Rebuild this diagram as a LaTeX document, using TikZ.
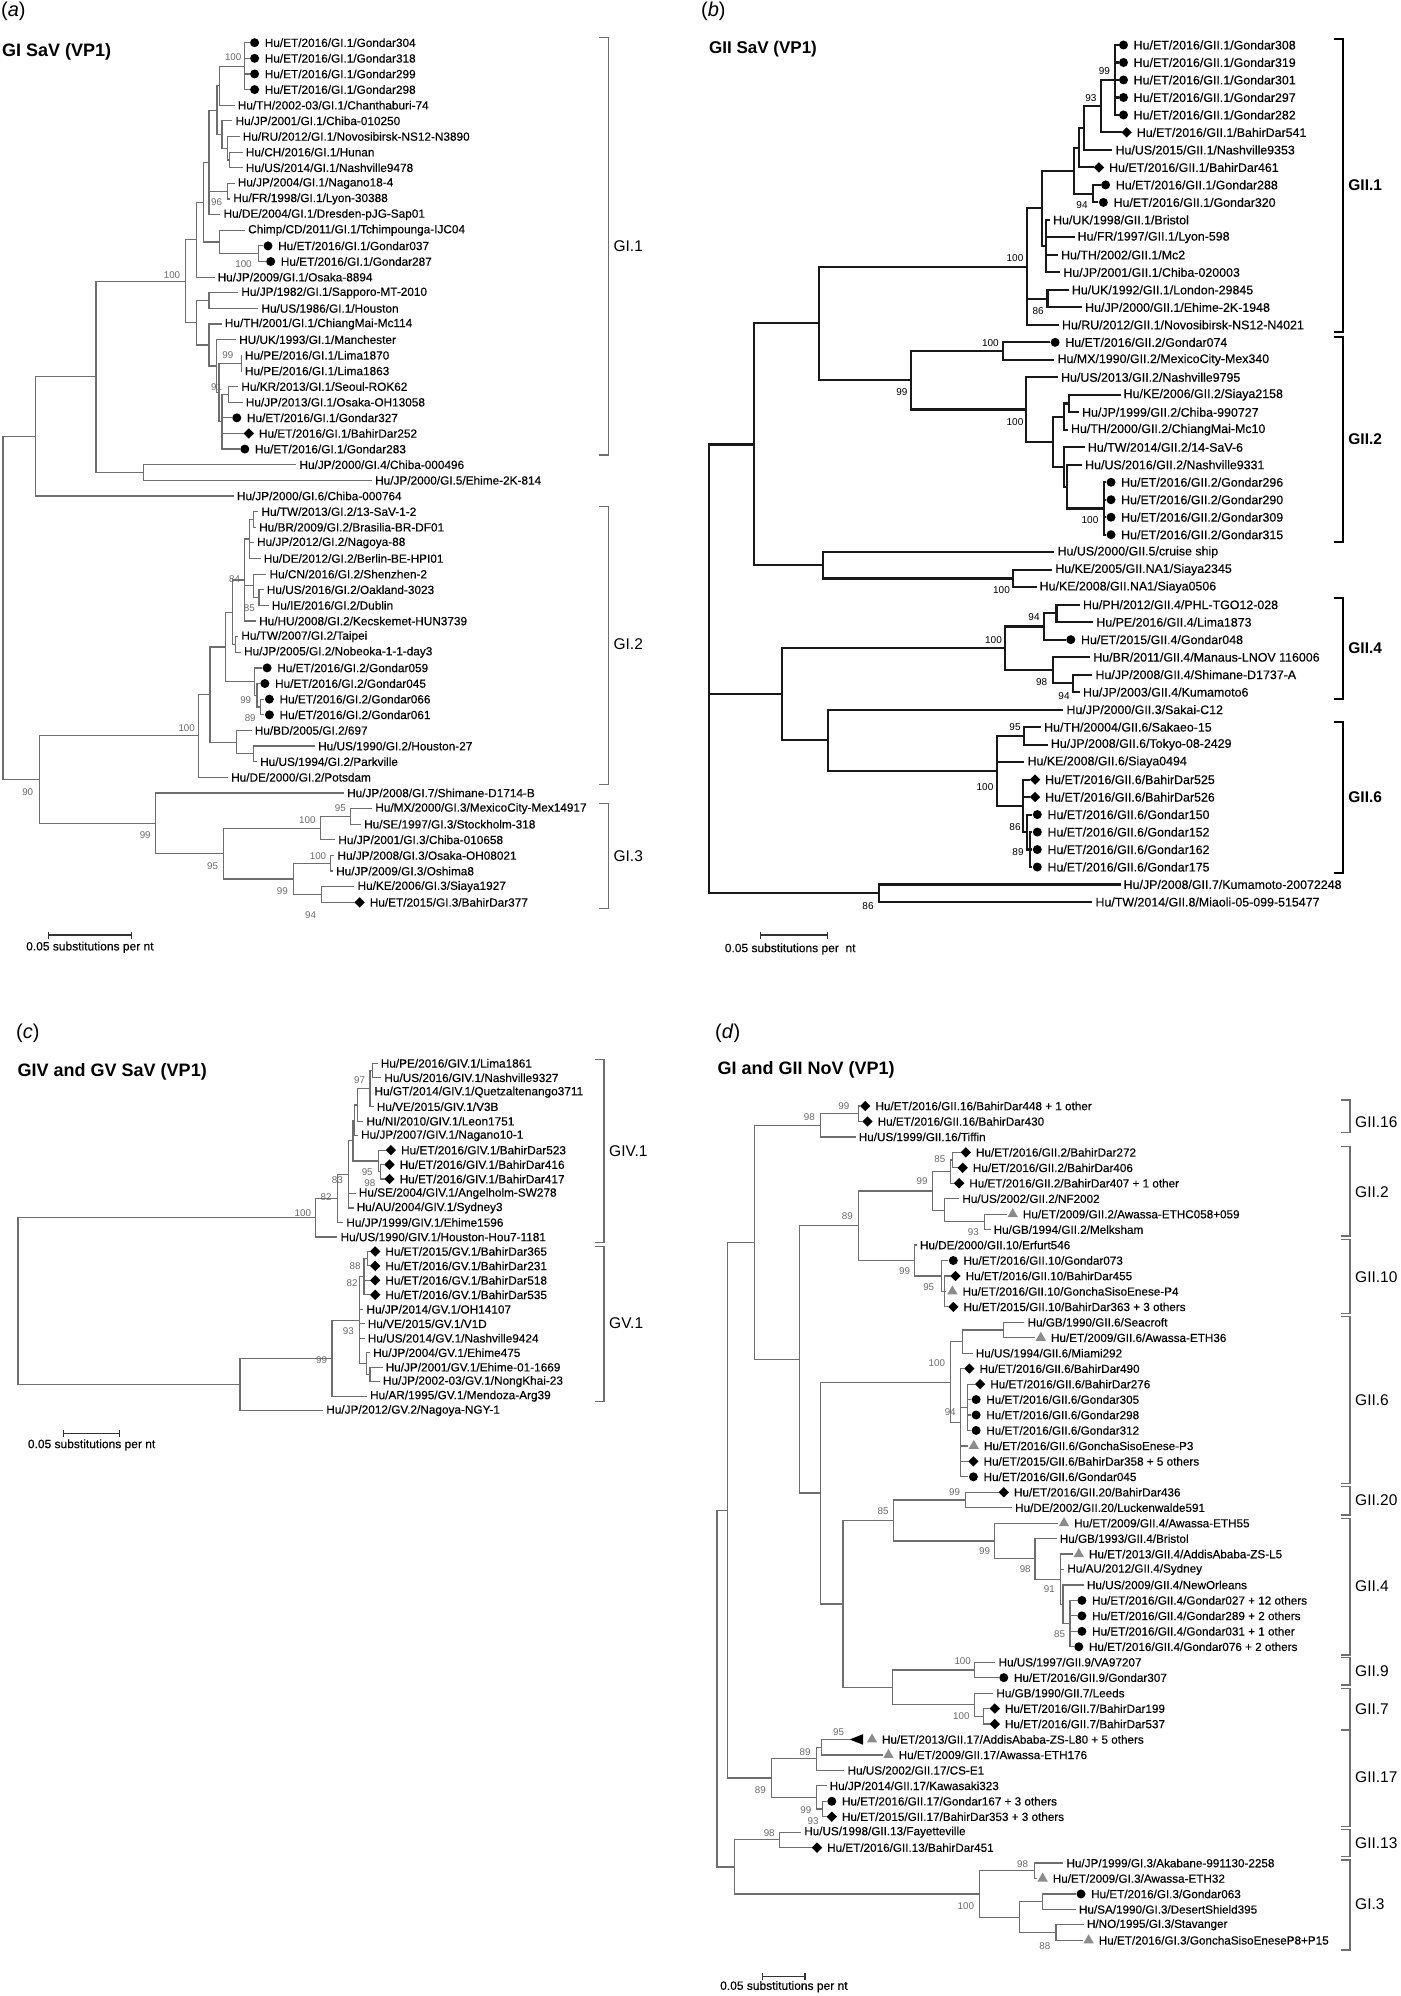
\documentclass[tikz,border=0pt]{standalone}
\usepackage{fontspec}
\setmainfont{Liberation Sans}
\newfontfamily\lblfnt{Liberation Sans}[FakeBold=0.3]
\usetikzlibrary{shapes.geometric}
\definecolor{brgray}{HTML}{6E6E6E}
\definecolor{btgray}{HTML}{6A6A6A}
\definecolor{trigray}{HTML}{8C8C8C}
\newcount\btc
\newcommand\leafP[4]{\coordinate (#1) at (#2-3,#3);\node[lab,anchor=west] (#1t) at (#2,#3) {#4};}
\newcommand\leafC[4]{\coordinate (#1) at (#2-5,#3);\node[mkc] (#1m) at (#2,#3) {};\node[lab,anchor=west] (#1t) at (#2+10,#3) {#4};}
\newcommand\leafD[4]{\coordinate (#1) at (#2-5,#3);\node[mkd] (#1m) at (#2,#3) {};\node[lab,anchor=west] (#1t) at (#2+10,#3) {#4};}
\newcommand\leafT[4]{\coordinate (#1) at (#2-6,#3);\node[mkt] (#1m) at (#2,#3) {};\node[lab,anchor=west] (#1t) at (#2+10,#3) {#4};}
\newcommand\inode[3]{\coordinate (#1) at (#2,#3);}
\newcommand\edges[2]{\foreach \ch in {#2}{\draw[br] (#1) |- (\ch);}}
\newcommand\boot[3]{\global\advance\btc by 1\relax\node[bt] (bt\the\btc) at (#1,#2) {#3};}
\newcommand\clade[6]{\coordinate (#1top) at (#2,#3);\coordinate (#1bot) at (#2,#4);
 \draw[brk] ([xshift=-9pt]#1top) -- (#1top) -- (#1bot) -- ([xshift=-9pt]#1bot);
 \node[cl,anchor=west] (#1lab) at (#2+5,#5) {#6};}
\newcommand\fsz[1]{\fontsize{#1}{#1}\selectfont}
\begin{document}
\begin{tikzpicture}[x=1pt,y=-1pt,
 mkc/.style={circle,fill=black,inner sep=0pt,minimum size=9pt},
 mkd/.style={diamond,aspect=1,fill=black,inner sep=0pt,minimum size=10.5pt},
 mkt/.style={regular polygon,regular polygon sides=3,fill=trigray,inner sep=0pt,minimum size=12pt},
 cl/.style={inner sep=0pt,font=\fsz{15.5pt}},
 ttl/.style={inner sep=0pt,anchor=west,font=\bfseries\fsz{18pt}},
 pl/.style={inner sep=0pt,anchor=west,font=\fsz{20pt}},
 sc/.style={inner sep=0pt,anchor=west,font=\lblfnt\fsz{12pt}},
 brk/.style={draw=brgray,line width=1.4pt},
 sbar/.style={draw=black!80,line width=1.1pt}]
\fill[white] (0,0) rectangle (1400,1996);
\useasboundingbox (0,0) rectangle (1400,1996);

% ================= (a) =================
\node[pl] (pa) at (1,11) {(\textit{a})};
\node[ttl] (ta) at (2,51.7) {GI SaV (VP1)};
\begin{scope}[y=-15.63pt,shift={(0pt,-42.7pt)},
 br/.style={draw=brgray,line width=1.2pt},
 lab/.style={inner sep=0pt,font=\lblfnt\fsz{11.8pt}},
 bt/.style={inner sep=0pt,text=btgray,font=\fsz{9.8pt}}]
\leafC{aL0}{254.6}{0}{Hu/ET/2016/GI.1/Gondar304}
\leafC{aL1}{254.6}{1}{Hu/ET/2016/GI.1/Gondar318}
\leafC{aL2}{254.6}{2}{Hu/ET/2016/GI.1/Gondar299}
\leafC{aL3}{254.6}{3}{Hu/ET/2016/GI.1/Gondar298}
\leafP{aL4}{237.6}{4}{Hu/TH/2002-03/GI.1/Chanthaburi-74}
\leafP{aL5}{235.4}{5}{Hu/JP/2001/GI.1/Chiba-010250}
\leafP{aL6}{242.6}{6}{Hu/RU/2012/GI.1/Novosibirsk-NS12-N3890}
\leafP{aL7}{245.7}{7}{Hu/CH/2016/GI.1/Hunan}
\leafP{aL8}{245.7}{8}{Hu/US/2014/GI.1/Nashville9478}
\leafP{aL9}{237.6}{9}{Hu/JP/2004/GI.1/Nagano18-4}
\leafP{aL10}{233.2}{10}{Hu/FR/1998/GI.1/Lyon-30388}
\leafP{aL11}{223.4}{11}{Hu/DE/2004/GI.1/Dresden-pJG-Sap01}
\leafP{aL12}{248}{12}{Chimp/CD/2011/GI.1/Tchimpounga-IJC04}
\leafC{aL13}{268}{13}{Hu/ET/2016/GI.1/Gondar037}
\leafC{aL14}{270.7}{14}{Hu/ET/2016/GI.1/Gondar287}
\leafP{aL15}{217.5}{15}{Hu/JP/2009/GI.1/Osaka-8894}
\leafP{aL16}{241.2}{16}{Hu/JP/1982/GI.1/Sapporo-MT-2010}
\leafP{aL17}{261.3}{17}{Hu/US/1986/GI.1/Houston}
\leafP{aL18}{224.7}{18}{Hu/TH/2001/GI.1/ChiangMai-Mc114}
\leafP{aL19}{239}{19}{HU/UK/1993/GI.1/Manchester}
\leafP{aL20}{244.8}{20}{Hu/PE/2016/GI.1/Lima1870}
\leafP{aL21}{244.8}{21}{Hu/PE/2016/GI.1/Lima1863}
\leafP{aL22}{241.2}{22}{Hu/KR/2013/GI.1/Seoul-ROK62}
\leafP{aL23}{245.7}{23}{Hu/JP/2013/GI.1/Osaka-OH13058}
\leafC{aL24}{236.8}{24}{Hu/ET/2016/GI.1/Gondar327}
\leafD{aL25}{248.8}{25}{Hu/ET/2016/GI.1/BahirDar252}
\leafC{aL26}{244.8}{26}{Hu/ET/2016/GI.1/Gondar283}
\leafP{aL27}{299.3}{27}{Hu/JP/2000/GI.4/Chiba-000496}
\leafP{aL28}{375}{28}{Hu/JP/2000/GI.5/Ehime-2K-814}
\leafP{aL29}{236.8}{29}{Hu/JP/2000/GI.6/Chiba-000764}
\leafP{aL30}{261.3}{30}{Hu/TW/2013/GI.2/13-SaV-1-2}
\leafP{aL31}{259}{31}{Hu/BR/2009/GI.2/Brasilia-BR-DF01}
\leafP{aL32}{256.9}{32}{Hu/JP/2012/GI.2/Nagoya-88}
\leafP{aL33}{263.6}{33}{Hu/DE/2012/GI.2/Berlin-BE-HPI01}
\leafP{aL34}{269.4}{34}{Hu/CN/2016/GI.2/Shenzhen-2}
\leafP{aL35}{266.7}{35}{Hu/US/2016/GI.2/Oakland-3023}
\leafP{aL36}{271.6}{36}{Hu/IE/2016/GI.2/Dublin}
\leafP{aL37}{259}{37}{Hu/HU/2008/GI.2/Kecskemet-HUN3739}
\leafP{aL38}{241.2}{38}{Hu/TW/2007/GI.2/Taipei}
\leafP{aL39}{243.9}{39}{Hu/JP/2005/GI.2/Nobeoka-1-1-day3}
\leafC{aL40}{267.1}{40}{Hu/ET/2016/GI.2/Gondar059}
\leafC{aL41}{264.9}{41}{Hu/ET/2016/GI.2/Gondar045}
\leafC{aL42}{269.4}{42}{Hu/ET/2016/GI.2/Gondar066}
\leafC{aL43}{269.4}{43}{Hu/ET/2016/GI.2/Gondar061}
\leafP{aL44}{254.6}{44}{Hu/BD/2005/GI.2/697}
\leafP{aL45}{318}{45}{Hu/US/1990/GI.2/Houston-27}
\leafP{aL46}{260}{46}{Hu/US/1994/GI.2/Parkville}
\leafP{aL47}{231}{47}{Hu/DE/2000/GI.2/Potsdam}
\leafP{aL48}{347}{48}{Hu/JP/2008/GI.7/Shimane-D1714-B}
\leafP{aL49}{375.2}{49}{Hu/MX/2000/GI.3/MexicoCity-Mex14917}
\leafP{aL50}{364}{50}{Hu/SE/1997/GI.3/Stockholm-318}
\leafP{aL51}{338.2}{51}{Hu/JP/2001/GI.3/Chiba-010658}
\leafP{aL52}{337.3}{52}{Hu/JP/2008/GI.3/Osaka-OH08021}
\leafP{aL53}{336}{53}{Hu/JP/2009/GI.3/Oshima8}
\leafP{aL54}{357.4}{54}{Hu/KE/2006/GI.3/Siaya1927}
\leafD{aL55}{359.6}{55}{Hu/ET/2015/GI.3/BahirDar377}
\inode{aN1}{244.8}{1.5}
\inode{aN2}{219.8}{2.75}
\inode{aN6}{229.6}{7.5}
\inode{aN5}{227.8}{6.75}
\inode{aN4}{222}{5.875}
\inode{aJ}{217}{4.3125}
\inode{aK}{227.8}{9.5}
\inode{aI}{209}{7.656}
\inode{aM}{258.2}{13.5}
\inode{aL}{219.8}{12.75}
\inode{aH}{203.2}{10.2}
\inode{aF}{196.5}{12.6}
\inode{aO}{209}{16.5}
\inode{aQ}{241.2}{20.5}
\inode{aR2}{228.7}{22.5}
\inode{aU}{222}{24.25}
\inode{aT}{218.9}{22.375}
\inode{aS}{216.6}{20.69}
\inode{aP}{209}{19.34}
\inode{aG}{196.5}{17.92}
\inode{aG1}{185.4}{15.26}
\inode{aE}{143.8}{27.5}
\inode{aD}{96}{21.38}
\inode{aA}{35.7}{25.19}
\inode{aV1}{253.7}{30.5}
\inode{aV0}{249.3}{31.75}
\inode{aV3}{259}{35.5}
\inode{aV2}{253.3}{34.75}
\inode{aV84}{244.8}{34.375}
\inode{aV4}{235.4}{38.5}
\inode{aW}{232.3}{36.44}
\inode{aX1}{260.4}{42.5}
\inode{aX2}{256.9}{41.75}
\inode{aX3}{254.6}{40.875}
\inode{aY}{225.6}{38.66}
\inode{aZ1}{253.7}{45.5}
\inode{aZ}{236.8}{44.75}
\inode{aGa}{210}{41.7}
\inode{aGII}{198.8}{44.35}
\inode{aC5b}{350.7}{49.5}
\inode{aC1a}{320.7}{50.25}
\inode{aC1b}{330.6}{52.5}
\inode{aC4}{321.6}{54.5}
\inode{aC9}{293.5}{53.5}
\inode{aC5}{223.4}{51.875}
\inode{aC}{155.5}{49.94}
\inode{aB}{39.3}{47.14}
\inode{aR}{3}{36.2}
\edges{aN1}{aL0,aL1,aL2,aL3}
\edges{aN2}{aN1,aL4}
\edges{aN6}{aL7,aL8}
\edges{aN5}{aL6,aN6}
\edges{aN4}{aL5,aN5}
\edges{aJ}{aN2,aN4}
\edges{aK}{aL9,aL10}
\edges{aI}{aJ,aK,aL11}
\edges{aM}{aL13,aL14}
\edges{aL}{aL12,aM}
\edges{aH}{aI,aL}
\edges{aF}{aH,aL15}
\edges{aO}{aL16,aL17}
\edges{aQ}{aL20,aL21}
\edges{aR2}{aL22,aL23}
\edges{aU}{aR2,aL24,aL25,aL26}
\edges{aT}{aQ,aU}
\edges{aS}{aL19,aT}
\edges{aP}{aL18,aS}
\edges{aG}{aO,aP}
\edges{aG1}{aF,aG}
\edges{aE}{aL27,aL28}
\edges{aD}{aG1,aE}
\edges{aA}{aD,aL29}
\edges{aV1}{aL30,aL31}
\edges{aV0}{aV1,aL32,aL33}
\edges{aV3}{aL35,aL36}
\edges{aV2}{aL34,aV3}
\edges{aV84}{aV0,aV2,aL37}
\edges{aV4}{aL38,aL39}
\edges{aW}{aV84,aV4}
\edges{aX1}{aL42,aL43}
\edges{aX2}{aL41,aX1}
\edges{aX3}{aL40,aX2}
\edges{aY}{aW,aX3}
\edges{aZ1}{aL45,aL46}
\edges{aZ}{aL44,aZ1}
\edges{aGa}{aY,aZ}
\edges{aGII}{aGa,aL47}
\edges{aC5b}{aL49,aL50}
\edges{aC1a}{aC5b,aL51}
\edges{aC1b}{aL52,aL53}
\edges{aC4}{aL54,aL55}
\edges{aC9}{aC1b,aC4}
\edges{aC5}{aC1a,aC9}
\edges{aC}{aL48,aC5}
\edges{aB}{aGII,aC}
\edges{aR}{aA,aB}
\boot{233.2}{0.93}{100}
\boot{216.6}{10.17}{96}
\boot{243.5}{14.18}{100}
\boot{172}{14.86}{100}
\boot{227.8}{19.98}{99}
\boot{216.6}{22.01}{91}
\boot{234.5}{34.31}{84}
\boot{249.3}{36.19}{85}
\boot{245.7}{42.05}{99}
\boot{250.2}{43.22}{89}
\boot{186.7}{43.86}{100}
\boot{27.7}{47.92}{90}
\boot{340.4}{48.98}{95}
\boot{307.3}{49.73}{100}
\boot{145.2}{50.69}{99}
\boot{318}{52.04}{100}
\boot{212.6}{52.67}{95}
\boot{282.3}{54.25}{99}
\boot{310.5}{55.8}{94}
\end{scope}
\clade{ka1}{608.4}{37.3}{455}{246}{GI.1}
\clade{ka2}{608.4}{506.7}{784.3}{644}{GI.2}
\clade{ka3}{608.4}{803.3}{908.3}{856}{GI.3}
\coordinate (sa1) at (48.3,935); \coordinate (sa2) at (131.7,935);
\draw[sbar] (sa1) -- (sa2);
\draw[sbar] ([yshift=3.5pt]sa1) -- ([yshift=-3.5pt]sa1);
\draw[sbar] ([yshift=3.5pt]sa2) -- ([yshift=-3.5pt]sa2);
\node[sc] (sta) at (26,947.3) {0.05 substitutions per nt};

% ================= (b) =================
\node[pl] (pb) at (701,11) {(\textit{b})};
\node[ttl,font=\bfseries\fsz{17pt}] (tb) at (709,49.3) {GII SaV (VP1)};
\begin{scope}[y=-17.49pt,shift={(0pt,-45pt)},
 br/.style={draw=black!90,line width=2.1pt},
 lab/.style={inner sep=0pt,font=\lblfnt\fsz{12.4pt}},
 bt/.style={inner sep=0pt,text=black,font=\fsz{10pt}}]
\leafC{bL0}{1123.5}{0}{Hu/ET/2016/GII.1/Gondar308}
\leafC{bL1}{1123.5}{1}{Hu/ET/2016/GII.1/Gondar319}
\leafC{bL2}{1123.5}{2}{Hu/ET/2016/GII.1/Gondar301}
\leafC{bL3}{1123.5}{3}{Hu/ET/2016/GII.1/Gondar297}
\leafC{bL4}{1123.5}{4}{Hu/ET/2016/GII.1/Gondar282}
\leafD{bL5}{1126.6}{5}{Hu/ET/2016/GII.1/BahirDar541}
\leafP{bL6}{1115.4}{6}{Hu/US/2015/GII.1/Nashville9353}
\leafD{bL7}{1098.9}{7}{Hu/ET/2016/GII.1/BahirDar461}
\leafC{bL8}{1105.6}{8}{Hu/ET/2016/GII.1/Gondar288}
\leafC{bL9}{1103.4}{9}{Hu/ET/2016/GII.1/Gondar320}
\leafP{bL10}{1052.9}{10}{Hu/UK/1998/GII.1/Bristol}
\leafP{bL11}{1077.5}{11}{Hu/FR/1997/GII.1/Lyon-598}
\leafP{bL12}{1060.9}{12}{Hu/TH/2002/GII.1/Mc2}
\leafP{bL13}{1063.2}{13}{Hu/JP/2001/GII.1/Chiba-020003}
\leafP{bL14}{1071.7}{14}{Hu/UK/1992/GII.1/London-29845}
\leafP{bL15}{1085}{15}{Hu/JP/2000/GII.1/Ehime-2K-1948}
\leafP{bL16}{1061.8}{16}{Hu/RU/2012/GII.1/Novosibirsk-NS12-N4021}
\leafC{bL17}{1055.1}{17}{Hu/ET/2016/GII.2/Gondar074}
\leafP{bL18}{1057.4}{18}{Hu/MX/1990/GII.2/MexicoCity-Mex340}
\leafP{bL19}{1060.9}{19}{Hu/US/2013/GII.2/Nashville9795}
\leafP{bL20}{1123.5}{20}{Hu/KE/2006/GII.2/Siaya2158}
\leafP{bL21}{1081.9}{21}{Hu/JP/1999/GII.2/Chiba-990727}
\leafP{bL22}{1070.8}{22}{Hu/TH/2000/GII.2/ChiangMai-Mc10}
\leafP{bL23}{1087.7}{23}{Hu/TW/2014/GII.2/14-SaV-6}
\leafP{bL24}{1085}{24}{Hu/US/2016/GII.2/Nashville9331}
\leafC{bL25}{1111}{25}{Hu/ET/2016/GII.2/Gondar296}
\leafC{bL26}{1111}{26}{Hu/ET/2016/GII.2/Gondar290}
\leafC{bL27}{1111}{27}{Hu/ET/2016/GII.2/Gondar309}
\leafC{bL28}{1111}{28}{Hu/ET/2016/GII.2/Gondar315}
\leafP{bL29}{1057.4}{29}{Hu/US/2000/GII.5/cruise ship}
\leafP{bL30}{1055.1}{30}{Hu/KE/2005/GII.NA1/Siaya2345}
\leafP{bL31}{1039.5}{31}{Hu/KE/2008/GII.NA1/Siaya0506}
\leafP{bL32}{1082.8}{32}{Hu/PH/2012/GII.4/PHL-TGO12-028}
\leafP{bL33}{1096.2}{33}{Hu/PE/2016/GII.4/Lima1873}
\leafC{bL34}{1070.8}{34}{Hu/ET/2015/GII.4/Gondar048}
\leafP{bL35}{1093.1}{35}{Hu/BR/2011/GII.4/Manaus-LNOV 116006}
\leafP{bL36}{1095.3}{36}{Hu/JP/2008/GII.4/Shimane-D1737-A}
\leafP{bL37}{1082.8}{37}{Hu/JP/2003/GII.4/Kumamoto6}
\leafP{bL38}{1066.3}{38}{Hu/JP/2000/GII.3/Sakai-C12}
\leafP{bL39}{1044}{39}{Hu/TH/20004/GII.6/Sakaeo-15}
\leafP{bL40}{1050.7}{40}{Hu/JP/2008/GII.6/Tokyo-08-2429}
\leafP{bL41}{1027.4}{41}{Hu/KE/2008/GII.6/Siaya0494}
\leafD{bL42}{1035}{42}{Hu/ET/2016/GII.6/BahirDar525}
\leafD{bL43}{1035}{43}{Hu/ET/2016/GII.6/BahirDar526}
\leafC{bL44}{1037.3}{44}{Hu/ET/2016/GII.6/Gondar150}
\leafC{bL45}{1037.3}{45}{Hu/ET/2016/GII.6/Gondar152}
\leafC{bL46}{1037.3}{46}{Hu/ET/2016/GII.6/Gondar162}
\leafC{bL47}{1037.3}{47}{Hu/ET/2016/GII.6/Gondar175}
\leafP{bL48}{1123.5}{48}{Hu/JP/2008/GII.7/Kumamoto-20072248}
\leafP{bL49}{1095.3}{49}{Hu/TW/2014/GII.8/Miaoli-05-099-515477}
\inode{bP1}{1115.4}{2}
\inode{bP2}{1101.1}{3.5}
\inode{bP3}{1084.2}{4.75}
\inode{bP4}{1078.8}{5.875}
\inode{bP5}{1093.1}{8.5}
\inode{bP6}{1074.3}{7.19}
\inode{bP7}{1046.2}{11.5}
\inode{bP8}{1041.7}{9.34}
\inode{bP9}{1047.5}{14.5}
\inode{bG1}{1027.4}{12.67}
\inode{bQ1}{1002.9}{17.5}
\inode{bQ2}{1069}{20.5}
\inode{bQ3}{1064}{21.25}
\inode{bQ4}{1104.3}{26.5}
\inode{bQ5}{1067.2}{25.25}
\inode{bQ6}{1064}{24.125}
\inode{bQ7}{1052.9}{22.69}
\inode{bQ8}{1026.1}{20.84}
\inode{bQ9}{910.8}{19.17}
\inode{bS1}{819.3}{15.92}
\inode{bS3}{1012.7}{30.5}
\inode{bS2}{822.8}{29.75}
\inode{bS4}{753.6}{22.84}
\inode{bT1}{1056.5}{32.5}
\inode{bT2}{1044}{33.25}
\inode{bT3}{1073.4}{36.5}
\inode{bT4}{1052.9}{35.75}
\inode{bT5}{1005}{34.5}
\inode{bU1}{1023.9}{39.5}
\inode{bU3}{1029.7}{46}
\inode{bU4}{1027.4}{45}
\inode{bU5}{1023.4}{43.5}
\inode{bU6}{997}{41.5}
\inode{bU7}{828.2}{39.75}
\inode{bU8}{781.7}{37.125}
\inode{bV1}{878.7}{48.5}
\inode{bR}{708.9}{35.67}
\edges{bP1}{bL0,bL1,bL2,bL3,bL4}
\edges{bP2}{bP1,bL5}
\edges{bP3}{bP2,bL6}
\edges{bP4}{bP3,bL7}
\edges{bP5}{bL8,bL9}
\edges{bP6}{bP4,bP5}
\edges{bP7}{bL10,bL11,bL12,bL13}
\edges{bP8}{bP6,bP7}
\edges{bP9}{bL14,bL15}
\edges{bG1}{bP8,bP9,bL16}
\edges{bQ1}{bL17,bL18}
\edges{bQ2}{bL20,bL21}
\edges{bQ3}{bQ2,bL22}
\edges{bQ4}{bL25,bL26,bL27,bL28}
\edges{bQ5}{bL24,bQ4}
\edges{bQ6}{bL23,bQ5}
\edges{bQ7}{bQ3,bQ6}
\edges{bQ8}{bL19,bQ7}
\edges{bQ9}{bQ1,bQ8}
\edges{bS1}{bG1,bQ9}
\edges{bS3}{bL30,bL31}
\edges{bS2}{bL29,bS3}
\edges{bS4}{bS1,bS2}
\edges{bT1}{bL32,bL33}
\edges{bT2}{bT1,bL34}
\edges{bT3}{bL36,bL37}
\edges{bT4}{bL35,bT3}
\edges{bT5}{bT2,bT4}
\edges{bU1}{bL39,bL40}
\edges{bU3}{bL45,bL46,bL47}
\edges{bU4}{bL44,bU3}
\edges{bU5}{bL42,bL43,bU4}
\edges{bU6}{bU1,bL41,bU5}
\edges{bU7}{bL38,bU6}
\edges{bU8}{bT5,bU7}
\edges{bV1}{bL48,bL49}
\edges{bR}{bS4,bU8,bV1}
\boot{1104.3}{1.49}{99}
\boot{1090.9}{3.01}{93}
\boot{1082}{9.15}{94}
\boot{1038.2}{15.19}{86}
\boot{1015}{12.2}{100}
\boot{990.4}{17.02}{100}
\boot{1015}{21.54}{100}
\boot{901.9}{19.82}{99}
\boot{1090}{27.16}{100}
\boot{1001.5}{31.16}{100}
\boot{1034}{32.72}{94}
\boot{993.5}{34.02}{100}
\boot{1041.7}{36.40}{98}
\boot{1064}{37.22}{94}
\boot{1015}{39.01}{95}
\boot{985}{42.44}{100}
\boot{1015}{44.69}{86}
\boot{1018}{46.14}{89}
\boot{868}{49.23}{86}
\end{scope}
\begin{scope}[brk/.style={draw=black,line width=2.2pt},cl/.style={inner sep=0pt,font=\bfseries\fsz{15.5pt}}]
\clade{kb1}{1343.2}{39.3}{331.7}{185}{GII.1}
\clade{kb2}{1343.2}{336.7}{541.7}{439.3}{GII.2}
\clade{kb4}{1343.2}{598.3}{699.3}{648.3}{GII.4}
\clade{kb6}{1343.2}{721.7}{873.3}{796.7}{GII.6}
\end{scope}
\coordinate (sb1) at (760.3,935); \coordinate (sb2) at (827.3,935);
\draw[sbar,line width=1.6pt] (sb1) -- (sb2);
\draw[sbar,line width=1.6pt] ([yshift=3.5pt]sb1) -- ([yshift=-3.5pt]sb1);
\draw[sbar,line width=1.6pt] ([yshift=3.5pt]sb2) -- ([yshift=-3.5pt]sb2);
\node[sc] (stb) at (724.6,949) {0.05 substitutions per\ \ nt};

% ================= (c) =================
\node[pl] (pc) at (16,1033) {(\textit{c})};
\node[ttl] (tc) at (17.5,1071.7) {GIV and GV SaV (VP1)};
\begin{scope}[y=-14.47pt,shift={(0pt,-1063.3pt)},
 br/.style={draw=brgray,line width=1.2pt},
 lab/.style={inner sep=0pt,font=\lblfnt\fsz{11.8pt}},
 bt/.style={inner sep=0pt,text=btgray,font=\fsz{9.8pt}}]
\leafP{cL0}{380.6}{0}{Hu/PE/2016/GIV.1/Lima1861}
\leafP{cL1}{384.2}{1}{Hu/US/2016/GIV.1/Nashville9327}
\leafP{cL2}{374.3}{2}{Hu/GT/2014/GIV.1/Quetzaltenango3711}
\leafP{cL3}{376.6}{3}{Hu/VE/2015/GIV.1/V3B}
\leafP{cL4}{366.3}{4}{Hu/NI/2010/GIV.1/Leon1751}
\leafP{cL5}{360.9}{5}{Hu/JP/2007/GIV.1/Nagano10-1}
\leafD{cL6}{390.9}{6}{Hu/ET/2016/GIV.1/BahirDar523}
\leafD{cL7}{389.5}{7}{Hu/ET/2016/GIV.1/BahirDar416}
\leafD{cL8}{389.5}{8}{Hu/ET/2016/GIV.1/BahirDar417}
\leafP{cL9}{358.7}{9}{Hu/SE/2004/GIV.1/Angelholm-SW278}
\leafP{cL10}{356.5}{10}{Hu/AU/2004/GIV.1/Sydney3}
\leafP{cL11}{346.2}{11}{Hu/JP/1999/GIV.1/Ehime1596}
\leafP{cL12}{340.4}{12}{Hu/US/1990/GIV.1/Houston-Hou7-1181}
\leafD{cL13}{375.2}{13}{Hu/ET/2015/GV.1/BahirDar365}
\leafD{cL14}{375.2}{14}{Hu/ET/2016/GV.1/BahirDar231}
\leafD{cL15}{375.2}{15}{Hu/ET/2016/GV.1/BahirDar518}
\leafD{cL16}{375.2}{16}{Hu/ET/2016/GV.1/BahirDar535}
\leafP{cL17}{366.3}{17}{Hu/JP/2014/GV.1/OH14107}
\leafP{cL18}{367.6}{18}{Hu/VE/2015/GV.1/V1D}
\leafP{cL19}{367.6}{19}{Hu/US/2014/GV.1/Nashville9424}
\leafP{cL20}{373}{20}{Hu/JP/2004/GV.1/Ehime475}
\leafP{cL21}{385.5}{21}{Hu/JP/2001/GV.1/Ehime-01-1669}
\leafP{cL22}{382.8}{22}{Hu/JP/2002-03/GV.1/NongKhai-23}
\leafP{cL23}{369.9}{23}{Hu/AR/1995/GV.1/Mendoza-Arg39}
\leafP{cL24}{326.1}{24}{Hu/JP/2012/GV.2/Nagoya-NGY-1}
\inode{cC1}{372.1}{0.5}
\inode{cC2}{369.9}{1.75}
\inode{cC3}{357.4}{2.875}
\inode{cC4}{354.2}{3.94}
\inode{cC5a}{380.6}{7.5}
\inode{cC5}{378.8}{6.75}
\inode{cC6}{352.9}{5.35}
\inode{cC7}{348.4}{7.675}
\inode{cC8}{337.3}{9.34}
\inode{cG4}{315.8}{10.67}
\inode{cD1}{367.2}{13.5}
\inode{cD2}{364}{14.75}
\inode{cD5}{369.9}{21.5}
\inode{cD4}{366.3}{20.75}
\inode{cD3}{359.6}{17.75}
\inode{cD6}{331.9}{20.375}
\inode{cD7}{239.9}{22.19}
\inode{cR}{17.9}{16.43}
\edges{cC1}{cL0,cL1}
\edges{cC2}{cC1,cL2,cL3}
\edges{cC3}{cC2,cL4}
\edges{cC4}{cC3,cL5}
\edges{cC5a}{cL7,cL8}
\edges{cC5}{cL6,cC5a}
\edges{cC6}{cC4,cC5}
\edges{cC7}{cC6,cL9,cL10}
\edges{cC8}{cC7,cL11}
\edges{cG4}{cC8,cL12}
\edges{cD1}{cL13,cL14}
\edges{cD2}{cD1,cL15,cL16}
\edges{cD5}{cL21,cL22}
\edges{cD4}{cL20,cD5}
\edges{cD3}{cD2,cL17,cL18,cL19,cD4}
\edges{cD6}{cD3,cL23}
\edges{cD7}{cD6,cL24}
\edges{cR}{cG4,cD7}
\boot{359.6}{1.15}{97}
\boot{367.2}{7.49}{95}
\boot{369.9}{8.25}{98}
\boot{337.3}{8.07}{83}
\boot{326.1}{9.26}{82}
\boot{302.9}{10.37}{100}
\boot{355.1}{13.99}{88}
\boot{352}{15.2}{82}
\boot{348.4}{18.5}{93}
\boot{321.6}{20.5}{99}
\end{scope}
\clade{kc1}{604}{1059.3}{1242.7}{1150.7}{GIV.1}
\clade{kc2}{604}{1246.7}{1401.7}{1323.3}{GV.1}
\coordinate (sc1) at (63.9,1433.3); \coordinate (sc2) at (119.7,1433.3);
\draw[sbar] (sc1) -- (sc2);
\draw[sbar] ([yshift=3.5pt]sc1) -- ([yshift=-3.5pt]sc1);
\draw[sbar] ([yshift=3.5pt]sc2) -- ([yshift=-3.5pt]sc2);
\node[sc] (stc) at (27.7,1445) {0.05 substitutions per nt};

% ================= (d) =================
\node[pl] (pd) at (715,1033) {(\textit{d})};
\node[ttl] (td) at (717.5,1070) {GI and GII NoV (VP1)};
\begin{scope}[y=-15.45pt,shift={(0pt,-1106pt)},
 br/.style={draw=brgray,line width=1.2pt},
 lab/.style={inner sep=0pt,font=\lblfnt\fsz{11.7pt}},
 bt/.style={inner sep=0pt,text=btgray,font=\fsz{9.8pt}}]
\leafD{dL0}{865.3}{0}{Hu/ET/2016/GII.16/BahirDar448 + 1 other}
\leafD{dL1}{867.5}{1}{Hu/ET/2016/GII.16/BahirDar430}
\leafP{dL2}{858.6}{2}{Hu/US/1999/GII.16/Tiffin}
\leafD{dL3}{965.8}{3}{Hu/ET/2016/GII.2/BahirDar272}
\leafD{dL4}{962.7}{4}{Hu/ET/2016/GII.2/BahirDar406}
\leafD{dL5}{959.1}{5}{Hu/ET/2016/GII.2/BahirDar407 + 1 other}
\leafP{dL6}{962.2}{6}{Hu/US/2002/GII.2/NF2002}
\leafT{dL7}{1012.7}{7}{Hu/ET/2009/GII.2/Awassa-ETHC058+059}
\leafP{dL8}{993.5}{8}{Hu/GB/1994/GII.2/Melksham}
\leafP{dL9}{919.8}{9}{Hu/DE/2000/GII.10/Erfurt546}
\leafC{dL10}{953.3}{10}{Hu/ET/2016/GII.10/Gondar073}
\leafD{dL11}{955.5}{11}{Hu/ET/2016/GII.10/BahirDar455}
\leafT{dL12}{952.4}{12}{Hu/ET/2016/GII.10/GonchaSisoEnese-P4}
\leafD{dL13}{953.3}{13}{Hu/ET/2015/GII.10/BahirDar363 + 3 others}
\leafP{dL14}{1027.4}{14}{Hu/GB/1990/GII.6/Seacroft}
\leafT{dL15}{1040.8}{15}{Hu/ET/2009/GII.6/Awassa-ETH36}
\leafP{dL16}{975.6}{16}{Hu/US/1994/GII.6/Miami292}
\leafD{dL17}{969.4}{17}{Hu/ET/2016/GII.6/BahirDar490}
\leafD{dL18}{980.1}{18}{Hu/ET/2016/GII.6/BahirDar276}
\leafC{dL19}{976.1}{19}{Hu/ET/2016/GII.6/Gondar305}
\leafC{dL20}{976.1}{20}{Hu/ET/2016/GII.6/Gondar298}
\leafC{dL21}{976.1}{21}{Hu/ET/2016/GII.6/Gondar312}
\leafT{dL22}{973.8}{22}{Hu/ET/2016/GII.6/GonchaSisoEnese-P3}
\leafD{dL23}{973.4}{23}{Hu/ET/2015/GII.6/BahirDar358 + 5 others}
\leafC{dL24}{973.4}{24}{Hu/ET/2016/GII.6/Gondar045}
\leafD{dL25}{1003.8}{25}{Hu/ET/2016/GII.20/BahirDar436}
\leafP{dL26}{1014.9}{26}{Hu/DE/2002/GII.20/Luckenwalde591}
\leafT{dL27}{1064}{27}{Hu/ET/2009/GII.4/Awassa-ETH55}
\leafP{dL28}{1059.6}{28}{Hu/GB/1993/GII.4/Bristol}
\leafT{dL29}{1078.8}{29}{Hu/ET/2013/GII.4/AddisAbaba-ZS-L5}
\leafP{dL30}{1067.2}{30}{Hu/AU/2012/GII.4/Sydney}
\leafP{dL31}{1086.8}{31}{Hu/US/2009/GII.4/NewOrleans}
\leafC{dL32}{1081.9}{32}{Hu/ET/2016/GII.4/Gondar027 + 12 others}
\leafC{dL33}{1081.9}{33}{Hu/ET/2016/GII.4/Gondar289 + 2 others}
\leafC{dL34}{1081.9}{34}{Hu/ET/2016/GII.4/Gondar031 + 1 other}
\leafC{dL35}{1078.8}{35}{Hu/ET/2016/GII.4/Gondar076 + 2 others}
\leafP{dL36}{998.4}{36}{Hu/US/1997/GII.9/VA97207}
\leafC{dL37}{1003.8}{37}{Hu/ET/2016/GII.9/Gondar307}
\leafP{dL38}{996.2}{38}{Hu/GB/1990/GII.7/Leeds}
\leafD{dL39}{994.8}{39}{Hu/ET/2016/GII.7/BahirDar199}
\leafD{dL40}{994.8}{40}{Hu/ET/2016/GII.7/BahirDar537}
\coordinate (dL41) at (849.6,41);
\fill[black] (dL41) -- (863,40.66) -- (863,41.34) -- cycle;
\node[mkt] (dL41m) at (872,41) {};
\node[lab,anchor=west] (dL41t) at (881.8,41) {Hu/ET/2013/GII.17/AddisAbaba-ZS-L80 + 5 others};
\leafT{dL42}{888.5}{42}{Hu/ET/2009/GII.17/Awassa-ETH176}
\leafP{dL43}{847.4}{43}{Hu/US/2002/GII.17/CS-E1}
\leafP{dL44}{829.5}{44}{Hu/JP/2014/GII.17/Kawasaki323}
\leafC{dL45}{831.8}{45}{Hu/ET/2016/GII.17/Gondar167 + 3 others}
\leafD{dL46}{831.8}{46}{Hu/ET/2015/GII.17/BahirDar353 + 3 others}
\leafP{dL47}{804.1}{47}{Hu/US/1998/GII.13/Fayetteville}
\leafD{dL48}{817}{48}{Hu/ET/2016/GII.13/BahirDar451}
\leafP{dL49}{1066.3}{49}{Hu/JP/1999/GI.3/Akabane-991130-2258}
\leafT{dL50}{1042.6}{50}{Hu/ET/2009/GI.3/Awassa-ETH32}
\leafC{dL51}{1081}{51}{Hu/ET/2016/GI.3/Gondar063}
\leafP{dL52}{1078.8}{52}{Hu/SA/1990/GI.3/DesertShield395}
\leafP{dL53}{1086.8}{53}{H/NO/1995/GI.3/Stavanger}
\leafT{dL54}{1088.6}{54}{Hu/ET/2016/GI.3/GonchaSisoEneseP8+P15}
\inode{dE1}{858.6}{0.5}
\inode{dE2}{820.6}{1.25}
\inode{dF1}{952.4}{3.5}
\inode{dF2}{950.2}{4.25}
\inode{dF5}{984.1}{7.5}
\inode{dF4}{944.8}{6.75}
\inode{dF3}{932.3}{5.5}
\inode{dG1}{944.8}{12}
\inode{dG2}{941.2}{11}
\inode{dG3}{914.4}{10}
\inode{dH1}{858.6}{7.75}
\inode{dI1}{1003.8}{14.5}
\inode{dI2}{962.7}{15.25}
\inode{dI3}{967.1}{19.5}
\inode{dI4}{960.4}{20.5}
\inode{dI5}{950.2}{17.875}
\inode{dJ1}{965.8}{25.5}
\inode{dK5}{1069.9}{33.5}
\inode{dK4}{1063}{32.25}
\inode{dK3}{1060.5}{30.625}
\inode{dK2}{1035}{29.31}
\inode{dK1}{994.8}{28.16}
\inode{dJ2}{893.4}{26.83}
\inode{dLa1}{974.7}{36.5}
\inode{dLa3}{983.7}{39.5}
\inode{dLa2}{974.7}{38.75}
\inode{dLa4}{892.1}{37.625}
\inode{dM1}{843}{32.23}
\inode{dN1}{820.6}{25.05}
\inode{dN2}{799.2}{16.4}
\inode{dN3}{754.5}{8.825}
\inode{dO2}{821.5}{41.5}
\inode{dO3}{816.1}{42.25}
\inode{dO5}{822.8}{45.5}
\inode{dO4}{816.1}{44.75}
\inode{dO6}{771.5}{43.5}
\inode{dP1}{779.5}{47.5}
\inode{dQ1}{1034.1}{49.5}
\inode{dQ2}{1042.6}{51.5}
\inode{dQ3}{1056}{53.5}
\inode{dQ4}{1019.4}{52.5}
\inode{dQ5}{979.2}{51}
\inode{dQ6}{734.8}{49.25}
\inode{dR4a}{727.7}{26.16}
\inode{dR4}{717}{37.7}
\edges{dE1}{dL0,dL1}
\edges{dE2}{dE1,dL2}
\edges{dF1}{dL3,dL4}
\edges{dF2}{dF1,dL5}
\edges{dF5}{dL7,dL8}
\edges{dF4}{dL6,dF5}
\edges{dF3}{dF2,dF4}
\edges{dG1}{dL11,dL12,dL13}
\edges{dG2}{dL10,dG1}
\edges{dG3}{dL9,dG2}
\edges{dH1}{dF3,dG3}
\edges{dI1}{dL14,dL15}
\edges{dI2}{dI1,dL16}
\edges{dI3}{dL18,dL19,dL20,dL21}
\edges{dI4}{dL17,dI3,dL22,dL23,dL24}
\edges{dI5}{dI2,dI4}
\edges{dJ1}{dL25,dL26}
\edges{dK5}{dL32,dL33,dL34,dL35}
\edges{dK4}{dL31,dK5}
\edges{dK3}{dL29,dL30,dK4}
\edges{dK2}{dL28,dK3}
\edges{dK1}{dL27,dK2}
\edges{dJ2}{dJ1,dK1}
\edges{dLa1}{dL36,dL37}
\edges{dLa3}{dL39,dL40}
\edges{dLa2}{dL38,dLa3}
\edges{dLa4}{dLa1,dLa2}
\edges{dM1}{dJ2,dLa4}
\edges{dN1}{dI5,dM1}
\edges{dN2}{dH1,dN1}
\edges{dN3}{dE2,dN2}
\edges{dO2}{dL41,dL42}
\edges{dO3}{dO2,dL43}
\edges{dO5}{dL45,dL46}
\edges{dO4}{dL44,dO5}
\edges{dO6}{dO3,dO4}
\edges{dP1}{dL47,dL48}
\edges{dQ1}{dL49,dL50}
\edges{dQ2}{dL51,dL52}
\edges{dQ3}{dL53,dL54}
\edges{dQ4}{dQ2,dQ3}
\edges{dQ5}{dQ1,dQ4}
\edges{dQ6}{dP1,dQ5}
\edges{dR4a}{dN3,dO6}
\edges{dR4}{dR4a,dQ6}
\boot{843.8}{0}{99}
\boot{809.4}{0.69}{98}
\boot{939.9}{3.44}{85}
\boot{922}{4.89}{99}
\boot{973.4}{8.18}{93}
\boot{847.4}{7.15}{89}
\boot{904.6}{10.7}{99}
\boot{928.7}{11.7}{95}
\boot{936.8}{16.61}{100}
\boot{950.2}{19.84}{94}
\boot{954.6}{25.0}{99}
\boot{883.1}{26.23}{85}
\boot{984.5}{28.84}{99}
\boot{1025.2}{30.0}{98}
\boot{1049.3}{31.3}{91}
\boot{1059.6}{34.2}{85}
\boot{962.7}{35.94}{100}
\boot{961.3}{39.47}{100}
\boot{838.5}{40.5}{95}
\boot{805}{41.79}{89}
\boot{760.3}{44.27}{89}
\boot{805.9}{45.56}{99}
\boot{813}{46.31}{93}
\boot{769.2}{47.06}{98}
\boot{1022.5}{49.04}{98}
\boot{965.8}{51.79}{100}
\boot{1044.9}{54.37}{88}
\end{scope}
\clade{kd1}{1350}{1100}{1132.7}{1121.7}{GII.16}
\clade{kd2}{1350}{1146.7}{1236}{1191.7}{GII.2}
\clade{kd3}{1350}{1239.3}{1313.3}{1276.7}{GII.10}
\clade{kd4}{1350}{1316.7}{1483.3}{1400}{GII.6}
\clade{kd5}{1350}{1486.7}{1515}{1500}{GII.20}
\clade{kd6}{1350}{1518.3}{1655}{1586}{GII.4}
\clade{kd7}{1350}{1657.7}{1685}{1670.7}{GII.9}
\clade{kd8}{1350}{1688.3}{1730}{1709.3}{GII.7}
\clade{kd9}{1350}{1730.7}{1826.7}{1776.7}{GII.17}
\clade{kd10}{1350}{1829.3}{1856.7}{1842.7}{GII.13}
\clade{kd11}{1350}{1860}{1950}{1904}{GI.3}
\coordinate (sd1) at (762.5,1976.7); \coordinate (sd2) at (805,1976.7);
\draw[sbar] (sd1) -- (sd2);
\draw[sbar] ([yshift=3.5pt]sd1) -- ([yshift=-3.5pt]sd1);
\draw[sbar] ([yshift=3.5pt]sd2) -- ([yshift=-3.5pt]sd2);
\node[sc] (std) at (720,1986.7) {0.05 substitutions per nt};
\end{tikzpicture}
\end{document}
